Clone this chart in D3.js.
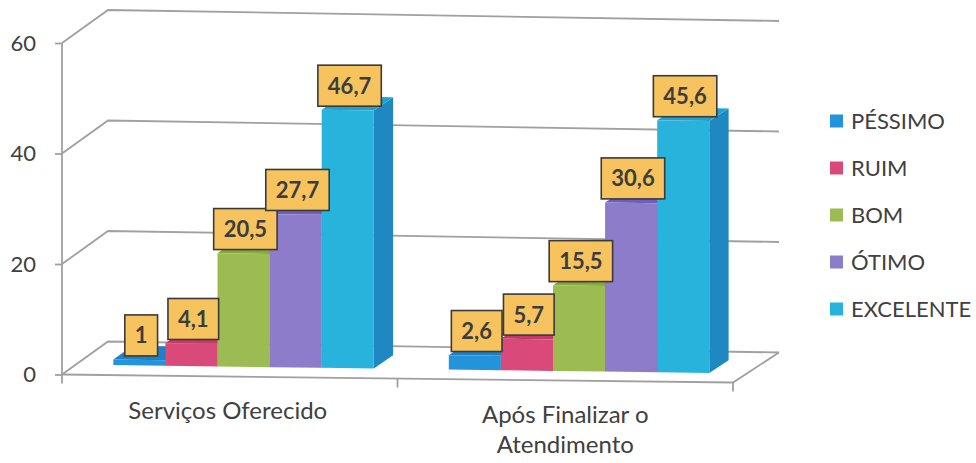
<!DOCTYPE html>
<html>
<head>
<meta charset="utf-8">
<script src="https://cdn.jsdelivr.net/npm/d3@7"></script>
<style>
  html, body { margin: 0; padding: 0; background: #ffffff; }
  svg { display: block; }
  text { font-family: Lato, "Open Sans", sans-serif; }
</style>
</head>
<body>
<svg id="chart" width="976" height="463"></svg>
<script>
// Categories, series and values
const categories = ["Serviços Oferecido", "Após Finalizar o Atendimento"];
const categoryLines = [["Serviços Oferecido"], ["Após Finalizar o", "Atendimento"]];
const seriesNames = ["PÉSSIMO", "RUIM", "BOM", "ÓTIMO", "EXCELENTE"];
const pessimo = [1, 2.6];
const ruim = [4.1, 5.7];
const bom = [20.5, 15.5];
const otimo = [27.7, 30.6];
const excelente = [46.7, 45.6];
const yTicks = [0, 20, 40, 60];
const labelTexts = {
  "PÉSSIMO": ["1", "2,6"],
  "RUIM": ["4,1", "5,7"],
  "BOM": ["20,5", "15,5"],
  "ÓTIMO": ["27,7", "30,6"],
  "EXCELENTE": ["46,7", "45,6"]
};

const seriesValues = [pessimo, ruim, bom, otimo, excelente];

// Face colours per series: front, top, side
const palette = {
  "PÉSSIMO":   { front: "#2394da", top: "#1f80c9", side: "#1a6aa8" },
  "RUIM":      { front: "#d9497a", top: "#c23c6a", side: "#a3325b" },
  "BOM":       { front: "#9cbb52", top: "#87a83f", side: "#728f35" },
  "ÓTIMO":     { front: "#8c7cca", top: "#6e5ec0", side: "#5c4ea4" },
  "EXCELENTE": { front: "#28b3dc", top: "#1ea3d1", side: "#1f88c2" }
};

const svg = d3.select("#chart");

// Scales
const y = d3.scaleLinear().domain([0, 60]).range([374.5, 43]);
const x0 = d3.scaleBand().domain(categories).range([0, 1]);
const x1 = d3.scaleBand().domain(seriesNames).range([0, x0.bandwidth()]).paddingOuter(0.72);
const sx = d3.scaleLinear().domain([0, 1]).range([62, 733]);

// Oblique projection: u across categories, v value, d depth (0 front, 1 back)
const DEPTH_DX = 46, DEPTH_DY = -33;
function proj(u, v, d) {
  return [sx(u) + DEPTH_DX * d, y(v) + DEPTH_DY * d + u * (8 + 3 * d)];
}
const poly = pts => "M" + pts.map(p => p.join(",")).join("L") + "Z";
const line = pts => "M" + pts.map(p => p.join(",")).join("L");

const gridColor = "#a0a0a0";
const grid = svg.append("g").attr("fill", "none").attr("stroke", gridColor).attr("stroke-width", 1.8);

// Side-wall diagonals and back-wall gridlines
yTicks.forEach(t => {
  grid.append("path").attr("d", line([proj(0, t, 0), proj(0, t, 1), proj(1, t, 1)]));
});
// Floor front and right edges
grid.append("path").attr("d", line([proj(0, 0, 0), proj(1, 0, 0), proj(1, 0, 1)]));
// Vertical value axis
grid.append("path").attr("d", line([proj(0, 0, 0), proj(0, 60, 0)]));
// Category tick marks below the floor
[0, 0.5, 1].forEach(u => {
  const p = proj(u, 0, 0);
  grid.append("path").attr("d", line([p, [p[0], p[1] + 9]]));
});

// Value axis labels and ticks
const yAxis = d3.axisLeft(y).tickValues(yTicks).tickSize(7).tickPadding(19).tickSizeOuter(0);
const ya = svg.append("g").attr("transform", `translate(${sx(0)},0)`).call(yAxis);
ya.select(".domain").remove();
ya.selectAll(".tick line").attr("stroke", gridColor).attr("stroke-width", 1.8);
ya.selectAll(".tick text").attr("fill", "#404040").style("font-size", "22px").style("font-family", "Lato, sans-serif");

// Bars
const BAR_D0 = 0.3, BAR_D1 = 0.72;
const bars = svg.append("g");
const barInfo = [];
categories.forEach((cat, ci) => {
  seriesNames.forEach((s, si) => {
    const v = seriesValues[si][ci];
    const u0 = x0(cat) + x1(s);
    const u1 = u0 + x1.bandwidth();
    const c = palette[s];
    const fbl = proj(u0, 0, BAR_D0), fbr = proj(u1, 0, BAR_D0);
    const ftl = proj(u0, v, BAR_D0), ftr = proj(u1, v, BAR_D0);
    const bbr = proj(u1, 0, BAR_D1), btr = proj(u1, v, BAR_D1), btl = proj(u0, v, BAR_D1);
    bars.append("path").attr("d", poly([fbr, bbr, btr, ftr])).attr("fill", c.side);
    bars.append("path").attr("d", poly([ftl, ftr, btr, btl])).attr("fill", c.top);
    bars.append("path").attr("d", poly([fbl, fbr, ftr, ftl])).attr("fill", c.front);
    barInfo.push({ s, ci, v, um: (u0 + u1) / 2 });
  });
});

// Data labels
const labels = svg.append("g");
barInfo.forEach(b => {
  const top = proj(b.um, b.v, BAR_D0);
  const cx = proj(b.um, b.v, 0.34)[0];
  const g = labels.append("g");
  const txt = g.append("text")
    .attr("text-anchor", "middle")
    .attr("fill", "#3c3c3c")
    .style("font-size", "22px")
    .style("font-weight", "bold")
    .text(labelTexts[b.s][b.ci]);
  const w = txt.node().getComputedTextLength() + 20;
  const h = 41;
  const bottom = top[1] - 4;
  g.insert("rect", "text")
    .attr("x", cx - w / 2).attr("y", bottom - h)
    .attr("width", w).attr("height", h)
    .attr("fill", "#f6c35e").attr("stroke", "#3a3a3a").attr("stroke-width", 1.6);
  txt.attr("x", cx).attr("y", bottom - h / 2 + 8);
});

// Category labels
categories.forEach((cat, ci) => {
  const uc = x0(cat) + x0.bandwidth() / 2;
  const p = proj(uc, 0, 0);
  const t = svg.append("text")
    .attr("text-anchor", "middle")
    .attr("fill", "#404040")
    .style("font-size", "24px");
  categoryLines[ci].forEach((ln, li) => {
    t.append("tspan").attr("x", p[0] - (ci === 0 ? 2 : 0)).attr("y", p[1] + 42 + li * 30).text(ln);
  });
});

// Legend
const legend = svg.append("g").attr("transform", "translate(830,121)");
seriesNames.forEach((s, i) => {
  const g = legend.append("g").attr("transform", `translate(0,${i * 47})`);
  g.append("rect").attr("x", 0).attr("y", -6.5).attr("width", 13).attr("height", 13).attr("fill", palette[s].front);
  g.append("text").attr("x", 21).attr("y", 7.5).attr("fill", "#404040").style("font-size", "22px").text(s);
});
</script>
</body>
</html>
